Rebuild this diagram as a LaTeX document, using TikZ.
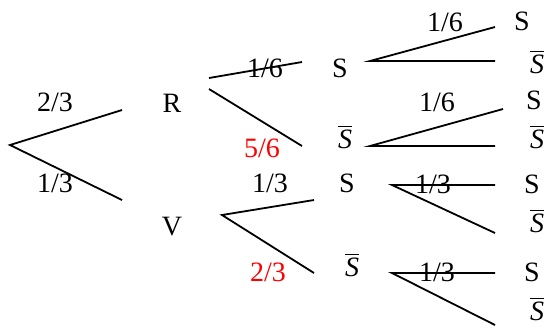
\documentclass[tikz,border=0pt]{standalone}
\usepackage{fontspec}
\setmainfont{Liberation Serif}
\usepackage{tikz}
\usetikzlibrary{positioning}
\newcommand{\nots}{$\overline{\mbox{\textit{S}}}$}

\begin{document}
\begin{tikzpicture}[
  x=0.5pt,y=-0.5pt,
  t/.style={inner sep=0pt,font=\fontsize{14}{17}\selectfont},
  rp/.style={t,text=red},
  l/.style={line width=0.9pt}
]
\useasboundingbox (0,0) rectangle (545,329);
% events
\node[t] (r) at (172,103) {R};
\node[t] (v) at (172,227) {V};
\node[t] (s1) at (340,68) {S};
\node[t] (n1) at (345,137) {\nots};
\node[t] (s2) at (347,183) {S};
\node[t] (n2) at (352,265) {\nots};
\node[t] (s1s) at (522,21) {S};
\node[t] (s1n) at (537,62) {\nots};
\node[t] (n1s) at (534,100) {S};
\node[t] (n1n) at (537,137) {\nots};
\node[t] (s2s) at (532,184) {S};
\node[t] (s2n) at (537,221) {\nots};
\node[t] (n2s) at (532,272) {S};
\node[t] (n2n) at (537,309) {\nots};
% probabilities
\node[t] (pr) at (55,102) {2/3};
\node[t] (pv) at (55,183) {1/3};
\node[t] (prs) at (265,68) {1/6};
\node[rp] (prn) at (262,148) {5/6};
\node[t] (pvs) at (270,183) {1/3};
\node[rp] (pvn) at (268,272) {2/3};
\node[t] (ps1) at (445,22) {1/6};
\node[t] (pn1) at (437,102) {1/6};
\node[t] (ps2) at (433,184) {1/3};
\node[t] (pn2) at (437,272) {1/3};
% line ends
\coordinate (o) at (10,145);
\coordinate (oa) at (122,110);
\coordinate (ob) at (122,200);
\coordinate (ro) at (209,78);
\coordinate (ro2) at (209,89);
\coordinate (ra) at (302,62);
\coordinate (rb) at (302,146);
\coordinate (vo) at (222,215);
\coordinate (va) at (314,200);
\coordinate (vb) at (314,273);
\coordinate (s1o) at (370,61);
\coordinate (s1a) at (495,27);
\coordinate (s1b) at (495,61);
\coordinate (n1o) at (370,146);
\coordinate (n1a) at (503,109);
\coordinate (n1b) at (495,146);
\coordinate (s2o) at (392,185);
\coordinate (s2a) at (495,185);
\coordinate (s2b) at (495,233);
\coordinate (n2o) at (392,273);
\coordinate (n2a) at (495,273);
\coordinate (n2b) at (495,325);
% branches
\draw[l] (oa) -- (o) -- (ob);
\draw[l] (ro) -- (ra);
\draw[l] (ro2) -- (rb);
\draw[l] (va) -- (vo) -- (vb);
\draw[l] (s1a) -- (s1o) -- (s1b);
\draw[l] (n1a) -- (n1o) -- (n1b);
\draw[l] (s2a) -- (s2o) -- (s2b);
\draw[l] (n2a) -- (n2o) -- (n2b);
\end{tikzpicture}
\end{document}
